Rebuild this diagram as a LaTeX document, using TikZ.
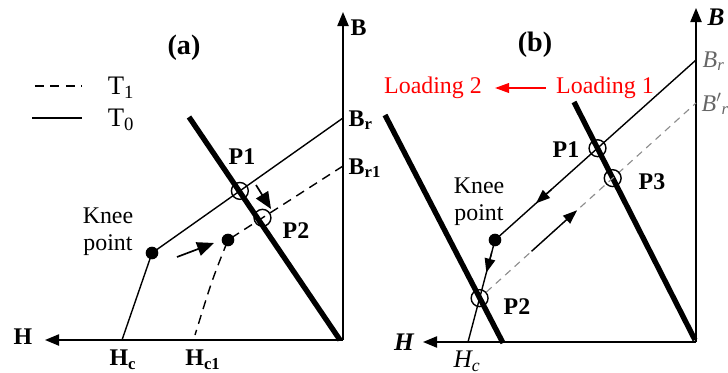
\documentclass[tikz,border=0pt]{standalone}
\usepackage{fontspec}
\setmainfont{Liberation Serif}
\usetikzlibrary{arrows.meta,calc}
\tikzset{
  axis/.style={line width=1.1pt, -{Triangle[length=10pt,width=8pt]}},
  curve/.style={line width=1pt},
  curvedash/.style={line width=1pt, dash pattern=on 6.5pt off 4.5pt},
  curvegray/.style={line width=0.8pt, draw=black!45, dash pattern=on 5pt off 4pt},
  loadline/.style={line width=3.8pt},
  opnt/.style={circle, draw, line width=1pt, minimum size=12pt, inner sep=0pt},
  knee/.style={circle, fill, minimum size=9pt, inner sep=0pt},
  move/.style={line width=1.2pt, -{Triangle[length=12pt,width=10pt]}},
  midtip/.style={line width=1pt, -{Triangle[length=10pt,width=7.5pt]}},
  lbl/.style={font=\fontsize{17}{17}\selectfont\bfseries, inner sep=1pt},
  ilbl/.style={font=\fontsize{18}{18}\selectfont\bfseries\itshape, inner sep=1pt},
  glbl/.style={font=\fontsize{17}{17}\selectfont\itshape, text=black!60, inner sep=1pt, anchor=west},
  txt/.style={font=\fontsize{17}{19}\selectfont, align=center, inner sep=0pt},
  redtxt/.style={font=\fontsize{17}{17}\selectfont, text=red, inner sep=0pt}
}

\begin{document}
\begin{tikzpicture}[x=0.025cm, y=-0.025cm]
  \useasboundingbox (0,0) rectangle (728,373);
  \clip (0,0) rectangle (728,373);

  % (a): loading line crossing the T0 and T1 curves
  \coordinate (oa) at (343,340);
  \coordinate (btopa) at (343,12);
  \coordinate (hend) at (45,340);
  \coordinate (bra) at (343,118);
  \coordinate (kneea) at (152,253);
  \coordinate (hca) at (122,340);
  \coordinate (brb) at (343,166);
  \coordinate (kneeb) at (228,240);
  \coordinate (hcb) at (195,335);
  \coordinate (lla) at (189,117);
  \coordinate (llb) at (340,340);

  \draw[axis] (oa) -- (btopa);
  \draw[axis] (oa) -- (hend);
  \draw[loadline] (lla) -- (llb);
  \draw[curve] (bra) -- (kneea) -- (hca);
  \draw[curvedash] (brb) -- (kneeb) .. controls (212,280) .. (hcb);
  \node[knee] (dota) at (kneea) {};
  \node[knee] (dotb) at (kneeb) {};
  \node[opnt] (p1a) at ($(bra)!0.54!(kneea)$) {};
  \node[opnt] (p2a) at ($(brb)!0.7!(kneeb)$) {};
  \coordinate (m1s) at (256,185);
  \coordinate (m1e) at (271,209);
  \coordinate (m2s) at (177,257);
  \coordinate (m2e) at (214,243);
  \draw[move] (m1s) -- (m1e);
  \draw[move] (m2s) -- (m2e);

  \node[lbl, font=\fontsize{20}{20}\selectfont\bfseries] (tita) at (184,48) {(a)};
  \node[lbl] (lp1a) at (242,157) {P1};
  \node[lbl] (lp2a) at (296,231) {P2};
  \node[txt] (kneetxta) at (108,232) {Knee\\point};
  \node[lbl, anchor=west] (lba) at (349,28) {B};
  \node[lbl, anchor=west] (lbra) at (347,120) {B\textsubscript{r}};
  \node[lbl, anchor=west] (lbrb) at (347,168) {B\textsubscript{r1}};
  \node[lbl] (lha) at (23,337) {H};
  \node[lbl] (lhca) at (123,360) {H\textsubscript{c}};
  \node[lbl] (lhcb) at (203,360) {H\textsubscript{c1}};

  % legend
  \coordinate (lg1s) at (32,86);
  \coordinate (lg1e) at (82,86);
  \coordinate (lg2s) at (32,118);
  \coordinate (lg2e) at (82,118);
  \draw[curvedash, dash phase=9pt] (lg1s) -- (lg1e);
  \draw[curve] (lg2s) -- (lg2e);
  \node[txt, font=\fontsize{19}{19}\selectfont] (t1) at (121,88) {T\textsubscript{1}};
  \node[txt, font=\fontsize{19}{19}\selectfont] (t0) at (121,120) {T\textsubscript{0}};

  % (b): two loadings on the same curve
  \coordinate (ob) at (696,342);
  \coordinate (btopb) at (696,8);
  \coordinate (hendb) at (423,342);
  \coordinate (brc) at (696,60);
  \coordinate (kneec) at (495,240);
  \coordinate (hcc) at (468,342);
  \coordinate (brd) at (696,103);
  \coordinate (lr1s) at (574,102);
  \coordinate (lr1e) at (695,340);
  \coordinate (lr2s) at (385,115);
  \coordinate (lr2e) at (503,343);

  \draw[axis] (ob) -- (btopb);
  \draw[axis] (ob) -- (hendb);
  \draw[loadline] (lr1s) -- (lr1e);
  \draw[loadline] (lr2s) -- (lr2e);
  \draw[curve] (brc) -- (kneec) -- (hcc);
  \node[opnt] (p2b) at ($(kneec)!0.57!(hcc)$) {};
  \draw[curvegray] (p2b) -- (brd);
  \node[knee] (dotc) at (kneec) {};
  \node[opnt] (p1b) at ($(brc)!0.49!(kneec)$) {};
  \node[opnt] (p3b) at ($(p2b)!0.615!(brd)$) {};
  \draw[midtip] ($(p1b)!0.45!(kneec)$) -- ($(p1b)!0.6!(kneec)$);
  \draw[midtip] ($(kneec)!0.12!(hcc)$) -- ($(kneec)!0.32!(hcc)$);
  \draw[midtip] ($(p2b)!0.24!(brd)$) -- ($(p2b)!0.45!(brd)$);

  \node[lbl, font=\fontsize{20}{20}\selectfont\bfseries] (titb) at (535,45) {(b)};
  \node[redtxt] (load2) at (433,88) {Loading 2};
  \node[redtxt] (load1) at (605,88) {Loading 1};
  \draw[red, line width=1pt, -{Triangle[length=10pt,width=7pt]}] (load1.west) ++(-10,0) coordinate (rs) (rs) -- ($(load2.east)+(13,0)$);
  \node[lbl] (lp1b) at (566,150) {P1};
  \node[lbl] (lp3b) at (652,182) {P3};
  \node[lbl] (lp2b) at (517,307) {P2};
  \node[txt] (kneetxtb) at (479,202) {Knee\\point};
  \node[ilbl, anchor=west] (lbb) at (706,17) {B};
  \node[glbl] (lbrc) at (701,61) {B\textsubscript{r}};
  \node[glbl] (lbrd) at (700,104) {B$'$\textsubscript{r}};
  \node[ilbl] (lhb) at (404,342) {H};
  \node[ilbl, font=\fontsize{18}{18}\selectfont\itshape] (lhcc) at (467,361) {H\textsubscript{c}};
\end{tikzpicture}
\end{document}
